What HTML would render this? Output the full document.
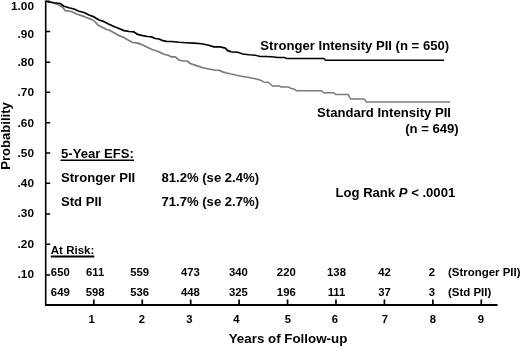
<!DOCTYPE html><html><head><meta charset="utf-8"><title>Event-free survival</title>
<style>html,body{margin:0;padding:0;background:#fff}svg{display:block}text{font-family:"Liberation Sans",sans-serif;font-weight:bold;fill:#000}.s{font-size:11.3px}.m{font-size:13.1px}</style></head><body>
<svg width="520" height="346" viewBox="0 0 520 346">
<rect width="520" height="346" fill="#fff"/>
<path d="M45.7 0.5V305.9" fill="none" stroke="#000" stroke-width="1.6"/>
<path d="M45 305H497.5" fill="none" stroke="#000" stroke-width="1.8"/>
<path d="M46 31.4H50.2M46 62.2H50.2M46 92.2H50.2M46 122.7H50.2M46 153.0H50.2M46 183.2H50.2M46 213.9H50.2M46 244.3H50.2M46 275.1H50.2M46 1.3H50" fill="none" stroke="#000" stroke-width="1.5"/>
<path d="M93.83 299.5V305M142.26 299.5V305M190.69 299.5V305M239.12 299.5V305M287.55 299.5V305M335.98 299.5V305M384.41 299.5V305M432.84 299.5V305M481.27 299.5V305" fill="none" stroke="#000" stroke-width="1.7"/>
<polyline points="46.5,1.5 54,3 59,5 62.75,7.5 65.25,10.6 71.5,11.5 76.5,14 81.5,15.6 86.5,17.5 91.5,19.4 95.25,21.9 97.75,25 102.75,27.5 106.5,29.5 109,30 114,32.75 119,35.6 124,37.5 129,40.6 132.75,42.5 137.75,43.1 142.75,45 147.75,47.5 152.75,49.75 157.75,51.25 162.75,53.75 166.5,55 167.75,55 171.5,56.9 175.25,56.9 179,60 182.75,61 187.1,61 190.25,63.5 196.5,65.6 202.75,67.75 209,69 215.25,70.25 219,70.25 222.75,71.9 226.5,73 230.25,73.75" fill="none" stroke="#7a7a7a" stroke-width="1.7" stroke-linejoin="round"/>
<polyline points="230.25,73.75 236.5,75.25 242.75,76.5 249,77.5 255.25,78.75 260,80 263.75,81.9 268.1,82.25 272.5,86 279.4,86 281.25,87.1 288.75,87.1 291.25,88.5 293.75,89 296.9,90.8 321.25,90.7 323.75,92.75 333.75,92.75 335.6,94.4 348.1,94.4 350.6,99 364.4,99 366.25,101.9 450,101.9" fill="none" stroke="#7a7a7a" stroke-width="1.5" stroke-linejoin="round"/>
<polyline points="46.5,1.5 54,2.75 60.25,3.5 64,6.25 69,7.75 74,9 79,11.25 84,12.5 89,15 94,16.9 99,20 104,21.7 109,24.2 114,26.5 119,28.5 124,30.6 129,31.5 134,31.9 137.75,34.4 142.75,35.6 147.75,36.5 151.5,36.9 155.25,38.5 159,39 162.75,40.6 166.5,41.4 171.5,41.5 179,42.25 186.5,42.75 194,43.1 201.5,43.75 207.75,45 214,46.9 220.25,46.9 225.25,48.1 227.75,50.6 231.5,51.9" fill="none" stroke="#000" stroke-width="1.75" stroke-linejoin="round"/>
<polyline points="231.5,51.9 237.75,52.25 242.75,54 249,54.75 255.25,55.25 260.25,56.5 266.5,56.5 274,56.9 277.75,57.5 284.4,57.5 286.25,58.4 323.75,58.4 325.6,60.25 444,60.25" fill="none" stroke="#000" stroke-width="1.5" stroke-linejoin="round"/>
<text class="s" style="font-size:11.8px" x="34" y="9.65" text-anchor="end">1.00</text>
<text class="s" style="font-size:11.8px" x="34" y="38.2" text-anchor="end">.90</text>
<text class="s" style="font-size:11.8px" x="34" y="66" text-anchor="end">.80</text>
<text class="s" style="font-size:11.8px" x="34" y="96.2" text-anchor="end">.70</text>
<text class="s" style="font-size:11.8px" x="34" y="126.6" text-anchor="end">.60</text>
<text class="s" style="font-size:11.8px" x="34" y="156.6" text-anchor="end">.50</text>
<text class="s" style="font-size:11.8px" x="34" y="186.9" text-anchor="end">.40</text>
<text class="s" style="font-size:11.8px" x="34" y="217.2" text-anchor="end">.30</text>
<text class="s" style="font-size:11.8px" x="34" y="247.7" text-anchor="end">.20</text>
<text class="s" style="font-size:11.8px" x="34" y="277.7" text-anchor="end">.10</text>
<text class="m" transform="translate(9.9 169.8) rotate(-90)">Probability</text>
<text class="s" x="91.6" y="322.8" text-anchor="middle">1</text>
<text class="s" x="141.9" y="322.8" text-anchor="middle">2</text>
<text class="s" x="189.5" y="322.8" text-anchor="middle">3</text>
<text class="s" x="236.3" y="322.8" text-anchor="middle">4</text>
<text class="s" x="288" y="322.8" text-anchor="middle">5</text>
<text class="s" x="335" y="322.8" text-anchor="middle">6</text>
<text class="s" x="385" y="322.8" text-anchor="middle">7</text>
<text class="s" x="433" y="322.8" text-anchor="middle">8</text>
<text class="s" x="480.8" y="322.8" text-anchor="middle">9</text>
<text class="m" style="font-size:13.35px" x="228.7" y="343">Years of Follow-up</text>
<text class="m" x="260.3" y="50.4">Stronger Intensity PII (n = 650)</text>
<text class="m" x="317.1" y="116.8">Standard Intensity PII</text>
<text class="m" x="405.2" y="132.5">(n = 649)</text>
<text class="m" x="61" y="158.1">5-Year EFS:</text>
<path d="M60.5 160.3H134" stroke="#000" stroke-width="1.5"/>
<text class="m" x="61" y="181.6">Stronger PII</text>
<text class="m" x="161.5" y="182">81.2% (se 2.4%)</text>
<text class="m" x="61" y="205.7">Std PII</text>
<text class="m" x="161.5" y="205.7">71.7% (se 2.7%)</text>
<text class="m" x="335.5" y="197.1">Log Rank <tspan font-style="italic">P</tspan> &lt; .0001</text>
<text class="s" style="font-size:11.5px" x="50.8" y="254.3">At Risk:</text>
<path d="M50.8 256.5H94.3" stroke="#000" stroke-width="1.8"/>
<text class="s" x="60.3" y="275.8" text-anchor="middle">650</text>
<text class="s" x="60.3" y="296.3" text-anchor="middle">649</text>
<text class="s" x="95.2" y="275.8" text-anchor="middle">611</text>
<text class="s" x="95.2" y="296.3" text-anchor="middle">598</text>
<text class="s" x="139.6" y="275.8" text-anchor="middle">559</text>
<text class="s" x="139.6" y="296.3" text-anchor="middle">536</text>
<text class="s" x="190.4" y="275.8" text-anchor="middle">473</text>
<text class="s" x="190.4" y="296.3" text-anchor="middle">448</text>
<text class="s" x="238.4" y="275.8" text-anchor="middle">340</text>
<text class="s" x="238.4" y="296.3" text-anchor="middle">325</text>
<text class="s" x="286.3" y="275.8" text-anchor="middle">220</text>
<text class="s" x="286.3" y="296.3" text-anchor="middle">196</text>
<text class="s" x="336.5" y="275.8" text-anchor="middle">138</text>
<text class="s" x="336.5" y="296.3" text-anchor="middle">111</text>
<text class="s" x="384.5" y="275.8" text-anchor="middle">42</text>
<text class="s" x="384.5" y="296.3" text-anchor="middle">37</text>
<text class="s" x="432" y="275.8" text-anchor="middle">2</text>
<text class="s" x="432" y="296.3" text-anchor="middle">3</text>
<text class="s" style="font-size:11.45px" x="448" y="275.8">(Stronger PII)</text>
<text class="s" style="font-size:11.45px" x="448" y="296.2">(Std PII)</text>
</svg></body></html>
